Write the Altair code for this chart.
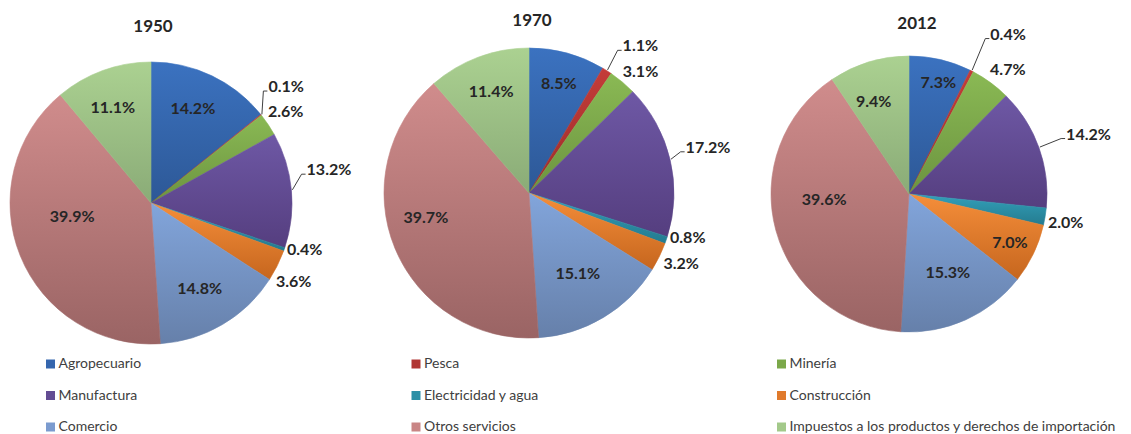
import math
import altair as alt
import pandas as pd

# ---------------- data ----------------
SECTORS = [
    "Agropecuario", "Pesca", "Minería", "Manufactura", "Electricidad y agua",
    "Construcción", "Comercio", "Otros servicios",
    "Impuestos a los productos y derechos de importación",
]
YEARS = ["1950", "1970", "2012"]
SHARE_1950 = [14.2, 0.1, 2.6, 13.2, 0.4, 3.6, 14.8, 39.9, 11.1]
SHARE_1970 = [8.5, 1.1, 3.1, 17.2, 0.8, 3.2, 15.1, 39.7, 11.4]
SHARE_2012 = [7.3, 0.4, 4.7, 14.2, 2.0, 7.0, 15.3, 39.6, 9.4]
SHARES = {"1950": SHARE_1950, "1970": SHARE_1970, "2012": SHARE_2012}

# ---------------- styles ----------------
TOP = ["#3B72C0", "#C43C39", "#8AB954", "#6E58A5", "#33A0BA",
       "#F58E3A", "#82A5DB", "#D08C8C", "#ABD191"]
BOTTOM = ["#2D5896", "#9B2D2B", "#6C9440", "#553E7F", "#247B8F",
          "#C6661E", "#6680AA", "#9A6464", "#8AAB77"]
LEGEND_COLORS = ["#3566AE", "#B03533", "#7BA84A", "#634C93", "#2C8FA6",
                 "#E07A2C", "#7B9BCF", "#C98585", "#A3C98A"]
FONT = "Lato"
LABEL_COLOR = "#262626"

# panel layout (pixels within each panel)
PANELS = {
    "1950": dict(width=378, cx=143, cy=195, r=141, tx=145, ty=19),
    "1970": dict(width=378, cx=143, cy=185, r=145, tx=146, ty=13),
    "2012": dict(width=355, cx=145, cy=186, r=138, tx=153, ty=16),
}
HP = 345

# label placement: (kind, distance from centre px, angular nudge deg)
PLACE = {
    "1950": [("in", 103, -1.6), ("lead", 165, -6), ("out", 148, -4),
             ("lead", 159, -6.6), ("out", 144, 0), ("out", 148, 6),
             ("in", 99, 1), ("in", 80, 12), ("in", 102, -2)],
    "1970": [("in", 113, 0), ("lead", 174, 0), ("out", 153, -2.3),
             ("lead", 163, -2.7), ("out", 148, -1.3), ("out", 152, 1.6),
             ("in", 95, 0), ("in", 106, 9), ("in", 108, 0)],
    "2012": [("in", 115, 1.6), ("lead", 179, 0), ("out", 148, -3),
             ("lead", 168, -1), ("out", 142, 2.4), ("in", 112, 0),
             ("in", 88, -2), ("in", 85, 11.5), ("in", 99, -4)],
}

rows = []
for y in YEARS:
    for i, s in enumerate(SECTORS):
        k, d, dt = PLACE[y][i]
        rows.append(dict(year=y, sector=s, order=i, pct=SHARES[y][i],
                         kind=k, lab_r=d, lab_dt=dt))
df = pd.DataFrame(rows)

THETA = alt.Scale(domain=[0, 1], range=[0, 2 * math.pi])


def panel(year):
    p = PANELS[year]
    cx, cy, r = p["cx"], p["cy"], p["r"]
    base = (
        alt.Chart(df)
        .transform_filter(alt.FieldEqualPredicate(field="year", equal=year))
        .transform_window(cum="sum(pct)", sort=[alt.SortField("order", order="ascending")],
                          frame=[None, 0])
        .transform_joinaggregate(total="sum(pct)")
        .transform_calculate(start="(datum.cum - datum.pct) / datum.total")
        .transform_calculate(end="datum.cum / datum.total")
        .transform_calculate(mid="(datum.start + datum.end) / 2")
        .transform_calculate(lab_frac="datum.mid + datum.lab_dt / 360")
        .transform_calculate(label="format(datum.pct, '.1f') + '%'")
    )
    layers = []
    for i, s in enumerate(SECTORS):
        grad = alt.Gradient(
            gradient="linear", x1=0, y1=0, x2=0, y2=1,
            stops=[alt.GradientStop(color=TOP[i], offset=0),
                   alt.GradientStop(color=BOTTOM[i], offset=1)],
        )
        layers.append(
            base.transform_filter(alt.FieldEqualPredicate(field="sector", equal=s))
            .mark_arc(outerRadius=r, fill=grad, stroke=grad, strokeWidth=0.6)
            .encode(theta=alt.Theta("start:Q", scale=THETA, stack=False),
                    theta2="end:Q", x=alt.value(cx), y=alt.value(cy))
        )
    lead = (
        base.transform_filter(alt.FieldEqualPredicate(field="kind", equal="lead"))
        .transform_calculate(ex=f"{cx} + {r + 1} * sin(datum.mid * 2 * PI)")
        .transform_calculate(ey=f"{cy} - {r + 1} * cos(datum.mid * 2 * PI)")
        .transform_calculate(ax=f"{cx} + datum.lab_r * sin(datum.lab_frac * 2 * PI)")
        .transform_calculate(ay=f"{cy} - datum.lab_r * cos(datum.lab_frac * 2 * PI)")
        .transform_calculate(bx="datum.ax - 5")
        .transform_calculate(by="datum.ay + 4")
        .transform_calculate(fx="datum.ax - 1")
    )
    layers.append(
        lead.mark_rule(color="#404040", strokeWidth=1).encode(
            x=alt.X("ex:Q", scale=None, axis=None), y=alt.Y("ey:Q", scale=None, axis=None),
            x2="bx:Q", y2="by:Q")
    )
    layers.append(
        lead.mark_rule(color="#404040", strokeWidth=1).encode(
            x=alt.X("bx:Q", scale=None, axis=None), y=alt.Y("by:Q", scale=None, axis=None),
            x2="fx:Q", y2="by:Q")
    )
    txt_style = dict(font=FONT, fontSize=16, fontWeight="bold", color=LABEL_COLOR,
                     baseline="middle")
    layers.append(
        base.transform_filter(alt.FieldEqualPredicate(field="kind", equal="in"))
        .mark_text(align="center", **txt_style)
        .encode(theta=alt.Theta("lab_frac:Q", scale=THETA, stack=False),
                radius=alt.Radius("lab_r:Q", scale=None),
                text="label:N", x=alt.value(cx), y=alt.value(cy))
    )
    layers.append(
        base.transform_filter("datum.kind != 'in'")
        .mark_text(align="left", **txt_style)
        .encode(theta=alt.Theta("lab_frac:Q", scale=THETA, stack=False),
                radius=alt.Radius("lab_r:Q", scale=None),
                text="label:N", x=alt.value(cx), y=alt.value(cy))
    )
    layers.append(
        alt.Chart(pd.DataFrame({"year": [year]}))
        .mark_text(font=FONT, fontSize=17, fontWeight="bold", color=LABEL_COLOR,
                   align="center", baseline="middle")
        .encode(text="year:N", x=alt.value(p["tx"]), y=alt.value(p["ty"]))
    )
    return alt.layer(*layers).properties(width=p["width"], height=HP)


pies = alt.hconcat(*[panel(y) for y in YEARS], spacing=0, bounds="flush")

legend_df = pd.DataFrame({
    "sector": SECTORS,
    "col": [i % 3 for i in range(len(SECTORS))],
    "row": [i // 3 for i in range(len(SECTORS))],
})
lx = alt.X("col:O", scale=alt.Scale(type="point", range=[42.5, 773.5], padding=0), axis=None)
ly = alt.Y("row:O", scale=alt.Scale(type="point", range=[11, 74], padding=0), axis=None)
leg_sq = alt.Chart(legend_df).mark_square(size=81, opacity=1).encode(
    x=lx, y=ly,
    color=alt.Color("sector:N", scale=alt.Scale(domain=SECTORS, range=LEGEND_COLORS), legend=None),
)
leg_tx = alt.Chart(legend_df).mark_text(
    align="left", baseline="middle", dx=8, font=FONT, fontSize=14, color="#404040"
).encode(x=lx, y=ly, text="sector:N")
legend = alt.layer(leg_sq, leg_tx).properties(width=1108, height=78)

chart = (
    alt.vconcat(pies, legend, spacing=0)
    .properties(padding=0)
    .configure_view(stroke=None)
)

chart.save("out.html", embed_options={"renderer": "svg", "actions": False})
